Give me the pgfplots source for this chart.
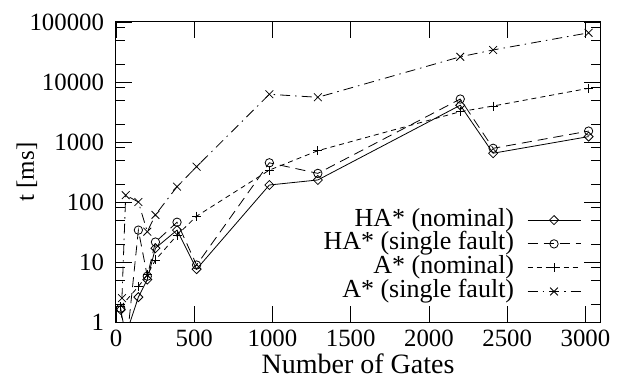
\documentclass[border=0pt]{standalone}
\usepackage{pgfplots}
\pgfplotsset{compat=1.18}
\usepackage{fontspec}
\setmainfont{Liberation Serif}
\begin{document}
\begin{tikzpicture}[font=\fontsize{25bp}{30bp}\selectfont]
\begin{axis}[
 scale only axis, width=484bp, height=300bp,
 xmin=0, xmax=3093, ymin=1, ymax=100000, ymode=log,
 xtick={0,500,...,3000}, ytick={1,10,100,1000,10000,100000},
 minor ytick={2,5,8,20,50,80,200,500,800,2000,5000,8000,20000,50000,80000},
 log ticks with fixed point,
 /pgf/number format/1000 sep={},
 /pgf/number format/assume math mode=true,
 tick align=inside, xtick pos=both, ytick pos=both,
 major tick length=16bp, minor tick length=9bp,
 every tick/.style={black, line width=0.8bp},
 axis line style={line width=1bp},
 tick label style={font=\fontsize{24.8bp}{29bp}\selectfont},
 yticklabel style={xshift=-8.5bp},
 xticklabel style={yshift=-4bp},
 xlabel={Number of Gates}, ylabel={t [ms]},
 xlabel style={font=\fontsize{28bp}{32bp}\selectfont, at={(axis description cs:0.5,-0.14)}, anchor=center},
 ylabel style={font=\fontsize{25bp}{30bp}\selectfont, at={(axis description cs:-0.184,0.5)}, anchor=center},
 legend plot pos=right, legend cell align=right,
 legend style={draw=none, fill=none, at={(0.961,0.38)}, anchor=north east, inner sep=0pt,
   column sep=13bp, row sep=0bp, font=\fontsize{26bp}{30bp}\selectfont,
   nodes={inner xsep=0pt, inner ysep=0.4bp, text height=17.5bp, text depth=5.5bp}},
 legend image code/.code={\draw[mark repeat=2,mark phase=2,#1] plot coordinates {(0bp,0bp) (26.5bp,0bp) (53bp,0bp)};},
]
\addplot[black, line width=0.8bp, mark=square, mark size=3.2bp, mark options={solid, rotate=45}]
 coordinates {(30,1.6) (62,0.6) (143,2.6) (200,5.1) (252,17) (390,34) (515,7.6) (980,192) (1290,233) (2200,4100) (2410,650) (3020,1230)};
\addlegendentry{HA* (nominal)}
\addplot[black, line width=0.8bp, dash pattern=on 10bp off 6bp, mark=o, mark size=4.2bp, mark options={solid}]
 coordinates {(30,1.7) (62,0.3) (143,34) (200,5.8) (252,21.5) (390,46) (515,8.9) (980,450) (1290,300) (2200,5200) (2410,785) (3020,1520)};
\addlegendentry{HA* (single fault)}
\addplot[black, line width=0.8bp, dash pattern=on 5bp off 4bp, mark=+, mark size=4.5bp, mark options={solid}]
 coordinates {(30,1.8) (143,3.9) (200,6.1) (252,10.8) (390,28) (515,58) (980,340) (1290,716) (2200,3200) (2410,3980) (3020,7850)};
\addlegendentry{A* (nominal)}
\addplot[black, line width=0.8bp, dash pattern=on 10bp off 5bp on 1.5bp off 5bp, mark=x, mark size=5.5bp, mark options={solid}]
 coordinates {(38,2.5) (62,130) (143,100) (200,32) (252,61) (390,180) (515,388) (980,6240) (1290,5560) (2200,26300) (2410,34200) (3020,66000)};
\addlegendentry{A* (single fault)}
\end{axis}
\pgfresetboundingbox
\useasboundingbox ([xshift=-116bp,yshift=-59bp]current axis.south west) rectangle ([xshift=20bp,yshift=22bp]current axis.north east);
\end{tikzpicture}
\end{document}
